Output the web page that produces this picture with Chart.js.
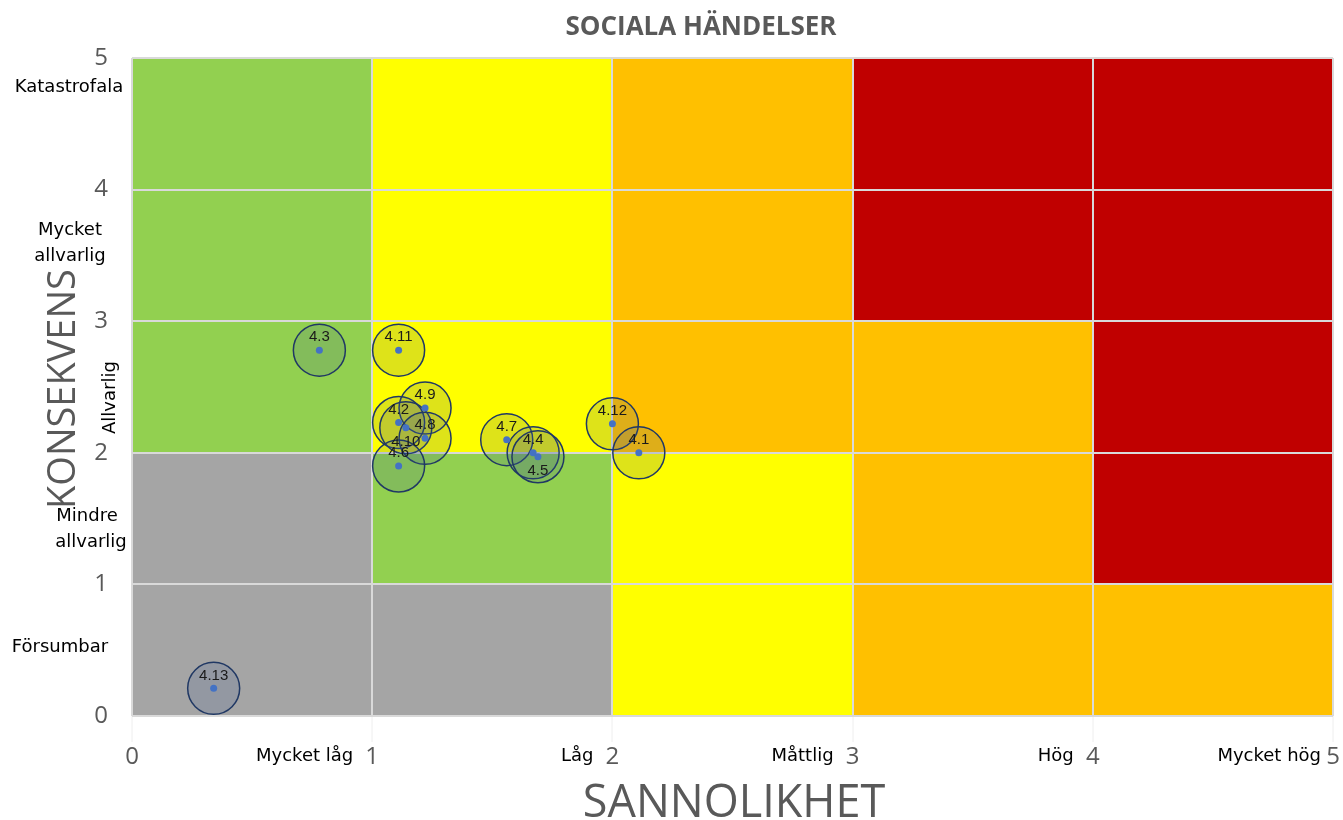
<!DOCTYPE html>
<html>
<head>
<meta charset="utf-8">
<script src="https://cdn.jsdelivr.net/npm/chart.js@4.4.1/dist/chart.umd.min.js"></script>
<style>
  html, body { margin: 0; padding: 0; background: #ffffff; }
  #wrap { width: 1343px; height: 820px; }
</style>
</head>
<body>
<div id="wrap"><canvas id="riskChart" width="1343" height="820"></canvas></div>
<script>
// händelser (id, sannolikhet, konsekvens)
var riskIds = ['4.3', '4.11', '4.9', '4.2', '4.10', '4.8', '4.6', '4.7', '4.4', '4.5', '4.12', '4.1', '4.13'];
var sannolikhet = [0.78, 1.11, 1.22, 1.11, 1.14, 1.22, 1.11, 1.56, 1.67, 1.69, 2.0, 2.11, 0.34];
var konsekvens = [2.78, 2.78, 2.34, 2.23, 2.19, 2.11, 1.90, 2.10, 2.0, 1.97, 2.22, 2.0, 0.21];

var xTicks = [0, 1, 2, 3, 4, 5];
var yTicks = [0, 1, 2, 3, 4, 5];
var sannolikhetNamn = ['Mycket låg', 'Låg', 'Måttlig', 'Hög', 'Mycket hög'];

// risknivå per cell, rader uppifrån (konsekvens 4-5) och nedåt
// 0 = grå, 1 = grön, 2 = gul, 3 = orange, 4 = röd
var riskMatris = [
    [1, 2, 3, 4, 4],
    [1, 2, 3, 4, 4],
    [1, 2, 3, 3, 4],
    [0, 1, 2, 3, 4],
    [0, 0, 2, 3, 3]
];

var nivaFarg = ['#A5A5A5', '#92D050', '#FFFF00', '#FFC000', '#C00000'];
var labelsBelow = ['4.5', '4.10'];

var points = [];
for (var i = 0; i < riskIds.length; i++) {
    points.push({ x: sannolikhet[i], y: konsekvens[i], id: riskIds[i] });
}

// plottytan ska gå ända ut till 10px från högerkanten
var areaPlugin = {
    id: 'area',
    afterLayout: function (chart) {
        var xs = chart.scales.x;
        var right = chart.width - 10;
        xs.right = right;
        xs.width = right - xs.left;
        xs.configure();
        chart.chartArea.right = right;
        chart.chartArea.width = right - chart.chartArea.left;
    }
};

// bakgrundsrutor
var cellPlugin = {
    id: 'cells',
    beforeDraw: function (chart) {
        var ctx = chart.ctx;
        var xs = chart.scales.x;
        var ys = chart.scales.y;
        ctx.save();
        for (var r = 0; r < riskMatris.length; r++) {
            for (var c = 0; c < riskMatris[r].length; c++) {
                var top = 5 - r;
                var x0 = xs.getPixelForValue(c);
                var x1 = xs.getPixelForValue(c + 1);
                var y0 = ys.getPixelForValue(top);
                var y1 = ys.getPixelForValue(top - 1);
                ctx.fillStyle = nivaFarg[riskMatris[r][c]];
                ctx.fillRect(x0, y0, x1 - x0, y1 - y0);
            }
        }
        ctx.restore();
    }
};

// texter: etiketter, axeltitlar, titel
var textPlugin = {
    id: 'texts',
    afterDatasetsDraw: function (chart) {
        var ctx = chart.ctx;
        var xs = chart.scales.x;
        var ys = chart.scales.y;
        ctx.save();

        // punkt-etiketter
        ctx.font = '15px "Liberation Sans", Arial, sans-serif';
        ctx.fillStyle = '#1a1a1a';
        ctx.textAlign = 'center';
        ctx.textBaseline = 'middle';
        for (var i = 0; i < points.length; i++) {
            var px = xs.getPixelForValue(points[i].x);
            var py = ys.getPixelForValue(points[i].y);
            var dy = labelsBelow.indexOf(points[i].id) >= 0 ? 14 : -13;
            ctx.fillText(points[i].id, px, py + dy);
        }
        ctx.restore();
    },
    afterDraw: function (chart) {
        var ctx = chart.ctx;
        var xs = chart.scales.x;
        var ys = chart.scales.y;
        ctx.save();

        // sannolikhet-namn
        ctx.font = '18px "DejaVu Sans", Verdana, sans-serif';
        ctx.fillStyle = '#000000';
        ctx.textAlign = 'right';
        ctx.textBaseline = 'middle';
        for (var k = 0; k < sannolikhetNamn.length; k++) {
            var off = k === sannolikhetNamn.length - 1 ? 12 : 19;
            ctx.fillText(sannolikhetNamn[k], xs.getPixelForValue(k + 1) - off, 756);
        }

        // konsekvens-namn
        ctx.textAlign = 'center';
        ctx.fillText('Katastrofala', 69, ys.getPixelForValue(4.78));
        ctx.fillText('Mycket', 70, ys.getPixelForValue(3.69));
        ctx.fillText('allvarlig', 70, ys.getPixelForValue(3.49));
        ctx.fillText('Mindre', 87, ys.getPixelForValue(1.52));
        ctx.fillText('allvarlig', 91, ys.getPixelForValue(1.32));
        ctx.fillText('Försumbar', 60, ys.getPixelForValue(0.52));

        ctx.save();
        ctx.translate(110, ys.getPixelForValue(2.42));
        ctx.rotate(-Math.PI / 2);
        ctx.fillText('Allvarlig', 0, 0);
        ctx.restore();

        // axeltitlar
        ctx.fillStyle = '#595959';
        ctx.font = '45px "Open Sans", sans-serif';
        ctx.fillText('SANNOLIKHET', 734, 804);
        ctx.font = '38px "Open Sans", sans-serif';
        ctx.save();
        ctx.translate(64, 389);
        ctx.rotate(-Math.PI / 2);
        ctx.fillText('KONSEKVENS', 0, 0);
        ctx.restore();

        // titel
        ctx.font = 'bold 26px "Open Sans", sans-serif';
        ctx.fillText('SOCIALA HÄNDELSER', 701, 28);

        ctx.restore();
    }
};

var ctx = document.getElementById('riskChart').getContext('2d');
var myChart = new Chart(ctx, {
    type: 'scatter',
    data: {
        datasets: [
            {
                label: 'punkter',
                data: points,
                pointRadius: 3.5,
                pointHoverRadius: 3.5,
                backgroundColor: '#4472C4',
                borderWidth: 0
            },
            {
                label: 'händelser',
                data: points,
                pointRadius: 26,
                pointHoverRadius: 26,
                backgroundColor: 'rgba(60, 90, 150, 0.17)',
                borderColor: '#203864',
                borderWidth: 1.5
            }
        ]
    },
    options: {
        responsive: false,
        animation: false,
        layout: {
            padding: { top: 58, left: 0, right: 10, bottom: 0 }
        },
        plugins: {
            legend: { display: false },
            tooltip: { enabled: false },
            title: { display: false }
        },
        scales: {
            x: {
                type: 'linear',
                min: 0,
                max: 5,
                afterFit: function (scale) {
                    scale.height = 104;
                },
                afterBuildTicks: function (scale) {
                    scale.ticks = xTicks.map(function (v) { return { value: v }; });
                },
                grid: {
                    color: '#D9D9D9',
                    lineWidth: 2,
                    drawTicks: true,
                    tickLength: 26,
                    tickColor: '#EEEEEE',
                    tickWidth: 1
                },
                border: { display: false },
                ticks: {
                    padding: 1,
                    color: '#595959',
                    font: { family: '"Open Sans", sans-serif', size: 24 },
                    maxRotation: 0
                }
            },
            y: {
                type: 'linear',
                min: 0,
                max: 5,
                afterFit: function (scale) {
                    scale.width = 132;
                    scale.paddingTop = 0;
                    scale.paddingBottom = 0;
                },
                afterBuildTicks: function (scale) {
                    scale.ticks = yTicks.map(function (v) { return { value: v }; });
                },
                grid: { color: '#D9D9D9', lineWidth: 2, drawTicks: false },
                border: { display: false },
                ticks: {
                    padding: 24,
                    color: '#595959',
                    font: { family: '"Open Sans", sans-serif', size: 24 }
                }
            }
        }
    },
    plugins: [areaPlugin, cellPlugin, textPlugin]
});
</script>
</body>
</html>
